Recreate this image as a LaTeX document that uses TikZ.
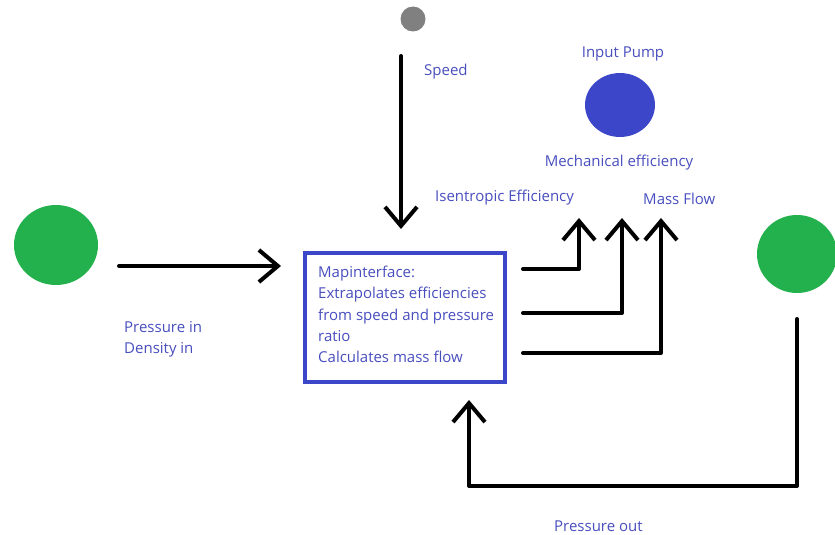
\documentclass[tikz,border=0pt]{standalone}
\usepackage{fontspec}
\setmainfont{Open Sans}
\usetikzlibrary{arrows.meta,shapes.geometric}
\definecolor{txtblue}{RGB}{72,78,190}
\definecolor{boxblue}{RGB}{60,70,200}
\definecolor{pumpgreen}{RGB}{34,177,76}
\definecolor{speedgray}{RGB}{128,128,128}
\tikzset{
  lbl/.style={text=txtblue, font=\fontsize{15}{21.3}\selectfont, inner sep=0pt},
  flow/.style={line width=4pt, line cap=round, line join=round, -{Straight Barb[length=19pt,width=32pt]}},
}
\begin{document}
\begin{tikzpicture}[x=1pt,y=-1pt]
\useasboundingbox (0,0) rectangle (835,535);
% sources
\node[circle, fill=speedgray, minimum size=25pt, inner sep=0pt] (speedsrc) at (413,19) {};
\node[ellipse, fill=boxblue, minimum width=70pt, minimum height=64pt, inner sep=0pt] (pump) at (620,105) {};
\node[ellipse, fill=pumpgreen, minimum width=84pt, minimum height=80pt, inner sep=0pt] (inlet) at (56,245) {};
\node[ellipse, fill=pumpgreen, minimum width=80pt, minimum height=78pt, inner sep=0pt] (outlet) at (797,254) {};
% map interface box
\node[draw=boxblue, line width=4pt, minimum width=200pt, minimum height=129pt, inner sep=0pt] (map) at (405,317.5) {};
\node[lbl, anchor=north west, align=left] (maptext) at (318,266) {Mapinterface:\\Extrapolates efficiencies\\from speed and pressure\\ratio\\Calculates mass flow};
% labels
\node[lbl, anchor=west] (speedlbl) at (424,72) {Speed};
\node[lbl] (pumplbl) at (623,53.5) {Input Pump};
\node[lbl] (mechlbl) at (619,162.5) {Mechanical efficiency};
\node[lbl, anchor=west] (isenlbl) at (435,197.5) {Isentropic Efficiency};
\node[lbl, anchor=west] (masslbl) at (643,198.5) {Mass Flow};
\node[lbl, anchor=north west, align=left] (inlbl) at (124,321) {Pressure in\\Density in};
\node[lbl, anchor=west] (outlbl) at (554,526.5) {Pressure out};
% coordinates
\coordinate (sA) at (401,56);
\coordinate (sB) at (401,229);
\coordinate (iA) at (119,266);
\coordinate (iB) at (281,266);
\coordinate (o1a) at (523,269);
\coordinate (o1b) at (579,269);
\coordinate (o1c) at (579,218);
\coordinate (o2a) at (523,313);
\coordinate (o2b) at (622,313);
\coordinate (o2c) at (622,218);
\coordinate (o3a) at (523,353);
\coordinate (o3b) at (661,353);
\coordinate (o3c) at (661,218);
\coordinate (pA) at (797,319);
\coordinate (pB) at (797,486);
\coordinate (pC) at (469,486);
\coordinate (pD) at (469,400);
% connectors
\draw[flow] (sA) -- (sB);
\draw[flow] (iA) -- (iB);
\draw[flow] (o1a) -- (o1b) -- (o1c);
\draw[flow] (o2a) -- (o2b) -- (o2c);
\draw[flow] (o3a) -- (o3b) -- (o3c);
\draw[flow] (pA) -- (pB) -- (pC) -- (pD);
\end{tikzpicture}
\end{document}
